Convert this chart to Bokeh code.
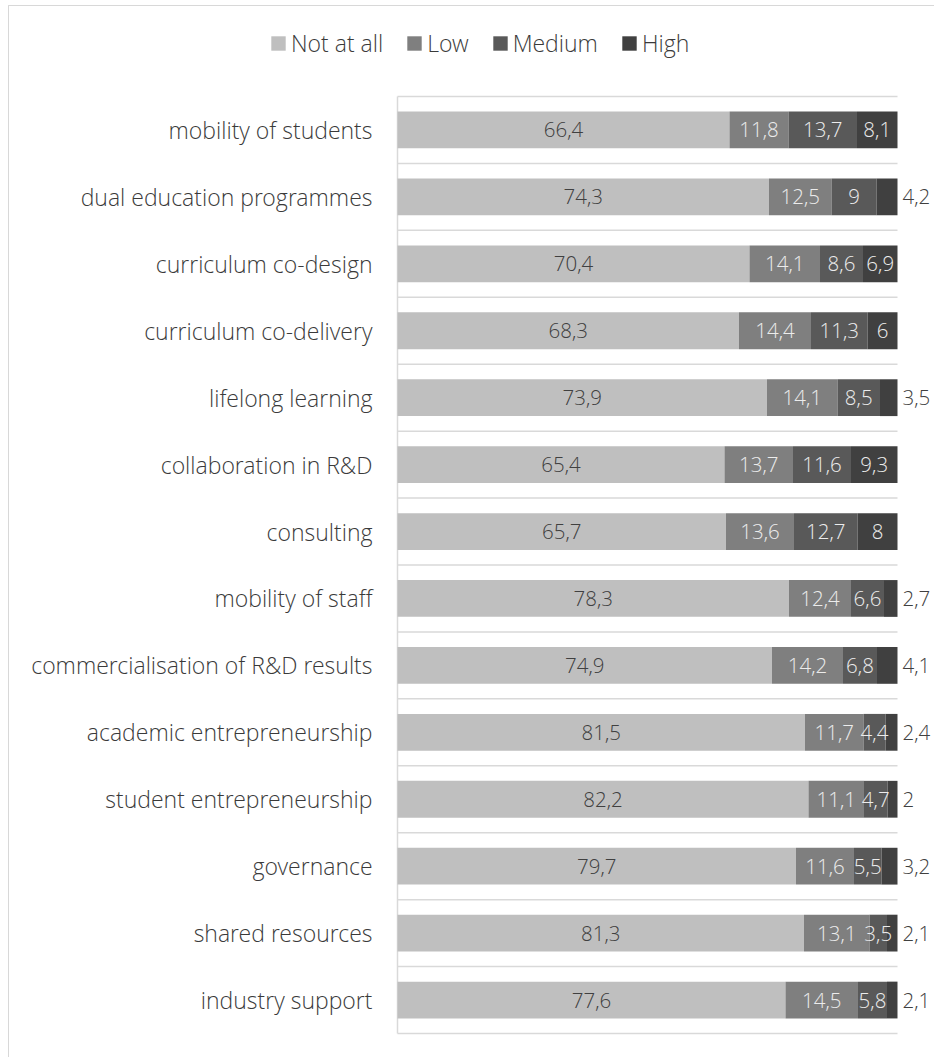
from bokeh.plotting import figure
from bokeh.models import (ColumnDataSource, Legend, LegendItem, Range1d, BoxAnnotation)
from bokeh.embed import file_html
from bokeh.resources import INLINE
from bokeh.core.properties import value

categories = [
    "mobility of students", "dual education programmes", "curriculum co-design",
    "curriculum co-delivery", "lifelong learning", "collaboration in R&D",
    "consulting", "mobility of staff", "commercialisation of R&D results",
    "academic entrepreneurship", "student entrepreneurship", "governance",
    "shared resources", "industry support",
]
series_names = ["Not at all", "Low", "Medium", "High"]
not_at_all = [66.4, 74.3, 70.4, 68.3, 73.9, 65.4, 65.7, 78.3, 74.9, 81.5, 82.2, 79.7, 81.3, 77.6]
low = [11.8, 12.5, 14.1, 14.4, 14.1, 13.7, 13.6, 12.4, 14.2, 11.7, 11.1, 11.6, 13.1, 14.5]
medium = [13.7, 9, 8.6, 11.3, 8.5, 11.6, 12.7, 6.6, 6.8, 4.4, 4.7, 5.5, 3.5, 5.8]
high = [8.1, 4.2, 6.9, 6, 3.5, 9.3, 8, 2.7, 4.1, 2.4, 2, 3.2, 2.1, 2.1]

colors = ["#bfbfbf", "#7f7f7f", "#595959", "#404040"]
label_colors = ["#404040", "#ececec", "#ececec", "#ececec"]
FONT = "Open Sans Light, Open Sans"

n = len(categories)
ys = [n - 1 - i for i in range(n)]

def fmt(v):
    return f"{v:g}".replace(".", ",")

W, H = 934, 1057
X0 = 397          # pixel of 0 %
PX_PER_PCT = 5.0  # 100 % = 500 px
Y_TOP, Y_BOT = 96, 1033
PX_PER_ROW = (Y_BOT - Y_TOP) / n

p = figure(width=W, height=H, output_backend="svg", toolbar_location=None,
           x_range=Range1d(-X0 / PX_PER_PCT, (W - X0) / PX_PER_PCT),
           y_range=Range1d(-0.5 - (H - Y_BOT) / PX_PER_ROW, n - 0.5 + Y_TOP / PX_PER_ROW),
           min_border=0)
p.background_fill_color = "white"
p.border_fill_color = "white"
p.outline_line_color = None
p.xaxis.visible = False
p.yaxis.visible = False
p.xgrid.visible = False
p.ygrid.visible = False

# horizontal separators between bands
bounds = [i - 0.5 for i in range(n + 1)]
p.segment(x0=[0] * len(bounds), x1=[100] * len(bounds), y0=bounds, y1=bounds,
          line_color="#d9d9d9", line_width=1.5)
# category axis line
p.segment(x0=[0], x1=[0], y0=[-0.5], y1=[n - 0.5], line_color="#d9d9d9", line_width=1.5)

all_series = [not_at_all, low, medium, high]
renderers = []
text_jobs = []
left = [0.0] * n
for k, vals in enumerate(all_series):
    right = [l + v for l, v in zip(left, vals)]
    src = ColumnDataSource(dict(y=ys, left=left, right=right))
    r = p.hbar(y="y", left="left", right="right", height=0.55, source=src,
               fill_color=colors[k], line_color=None)
    renderers.append(r)
    mids = [l + v / 2 for l, v in zip(left, vals)]
    if k < 3:
        text_jobs.append((mids, ys, [fmt(v) for v in vals], "center", 0, label_colors[k]))
    else:
        inside = [i for i, v in enumerate(vals) if v >= 5]
        outside = [i for i, v in enumerate(vals) if v < 5]
        text_jobs.append(([mids[i] for i in inside], [ys[i] for i in inside],
                          [fmt(vals[i]) for i in inside], "center", 0, label_colors[k]))
        text_jobs.append(([right[i] for i in outside], [ys[i] for i in outside],
                          [fmt(vals[i]) for i in outside], "left", 5, "#404040"))
    left = right

for xs_, ys_, ts_, align, xoff, col in text_jobs:
    tsrc = ColumnDataSource(dict(x=xs_, y=ys_, t=ts_))
    p.text(x="x", y="y", text="t", source=tsrc, text_align=align,
           text_baseline="middle", text_font=value(FONT), x_offset=xoff,
           text_font_size="20.5px", text_color=col)

# category labels (left of the 0 % line)
csrc = ColumnDataSource(dict(x=[0] * n, y=ys, t=categories))
p.text(x="x", y="y", text="t", source=csrc, text_align="right",
       text_baseline="middle", text_font=value(FONT), x_offset=-25,
       text_font_size="23px", text_color="#3a3a3a")

legend = Legend(items=[LegendItem(label=s, renderers=[r]) for s, r in zip(series_names, renderers)],
                orientation="horizontal", location=(269, H - 44 - 9 - 6),
                padding=0, margin=0, spacing=22, label_standoff=4,
                glyph_width=18, glyph_height=18, label_height=18,
                label_text_font=FONT, label_text_font_size="23px",
                label_text_color="#3a3a3a", border_line_color=None,
                background_fill_alpha=0)
p.add_layout(legend)

frame_box = BoxAnnotation(left=8, right=3000, top=5, bottom=3000,
                          left_units="canvas", right_units="canvas",
                          top_units="canvas", bottom_units="canvas",
                          fill_alpha=0, line_color="#7f7f7f", line_width=1)
p.add_layout(frame_box)

open("out.html", "w").write(file_html(p, INLINE))
